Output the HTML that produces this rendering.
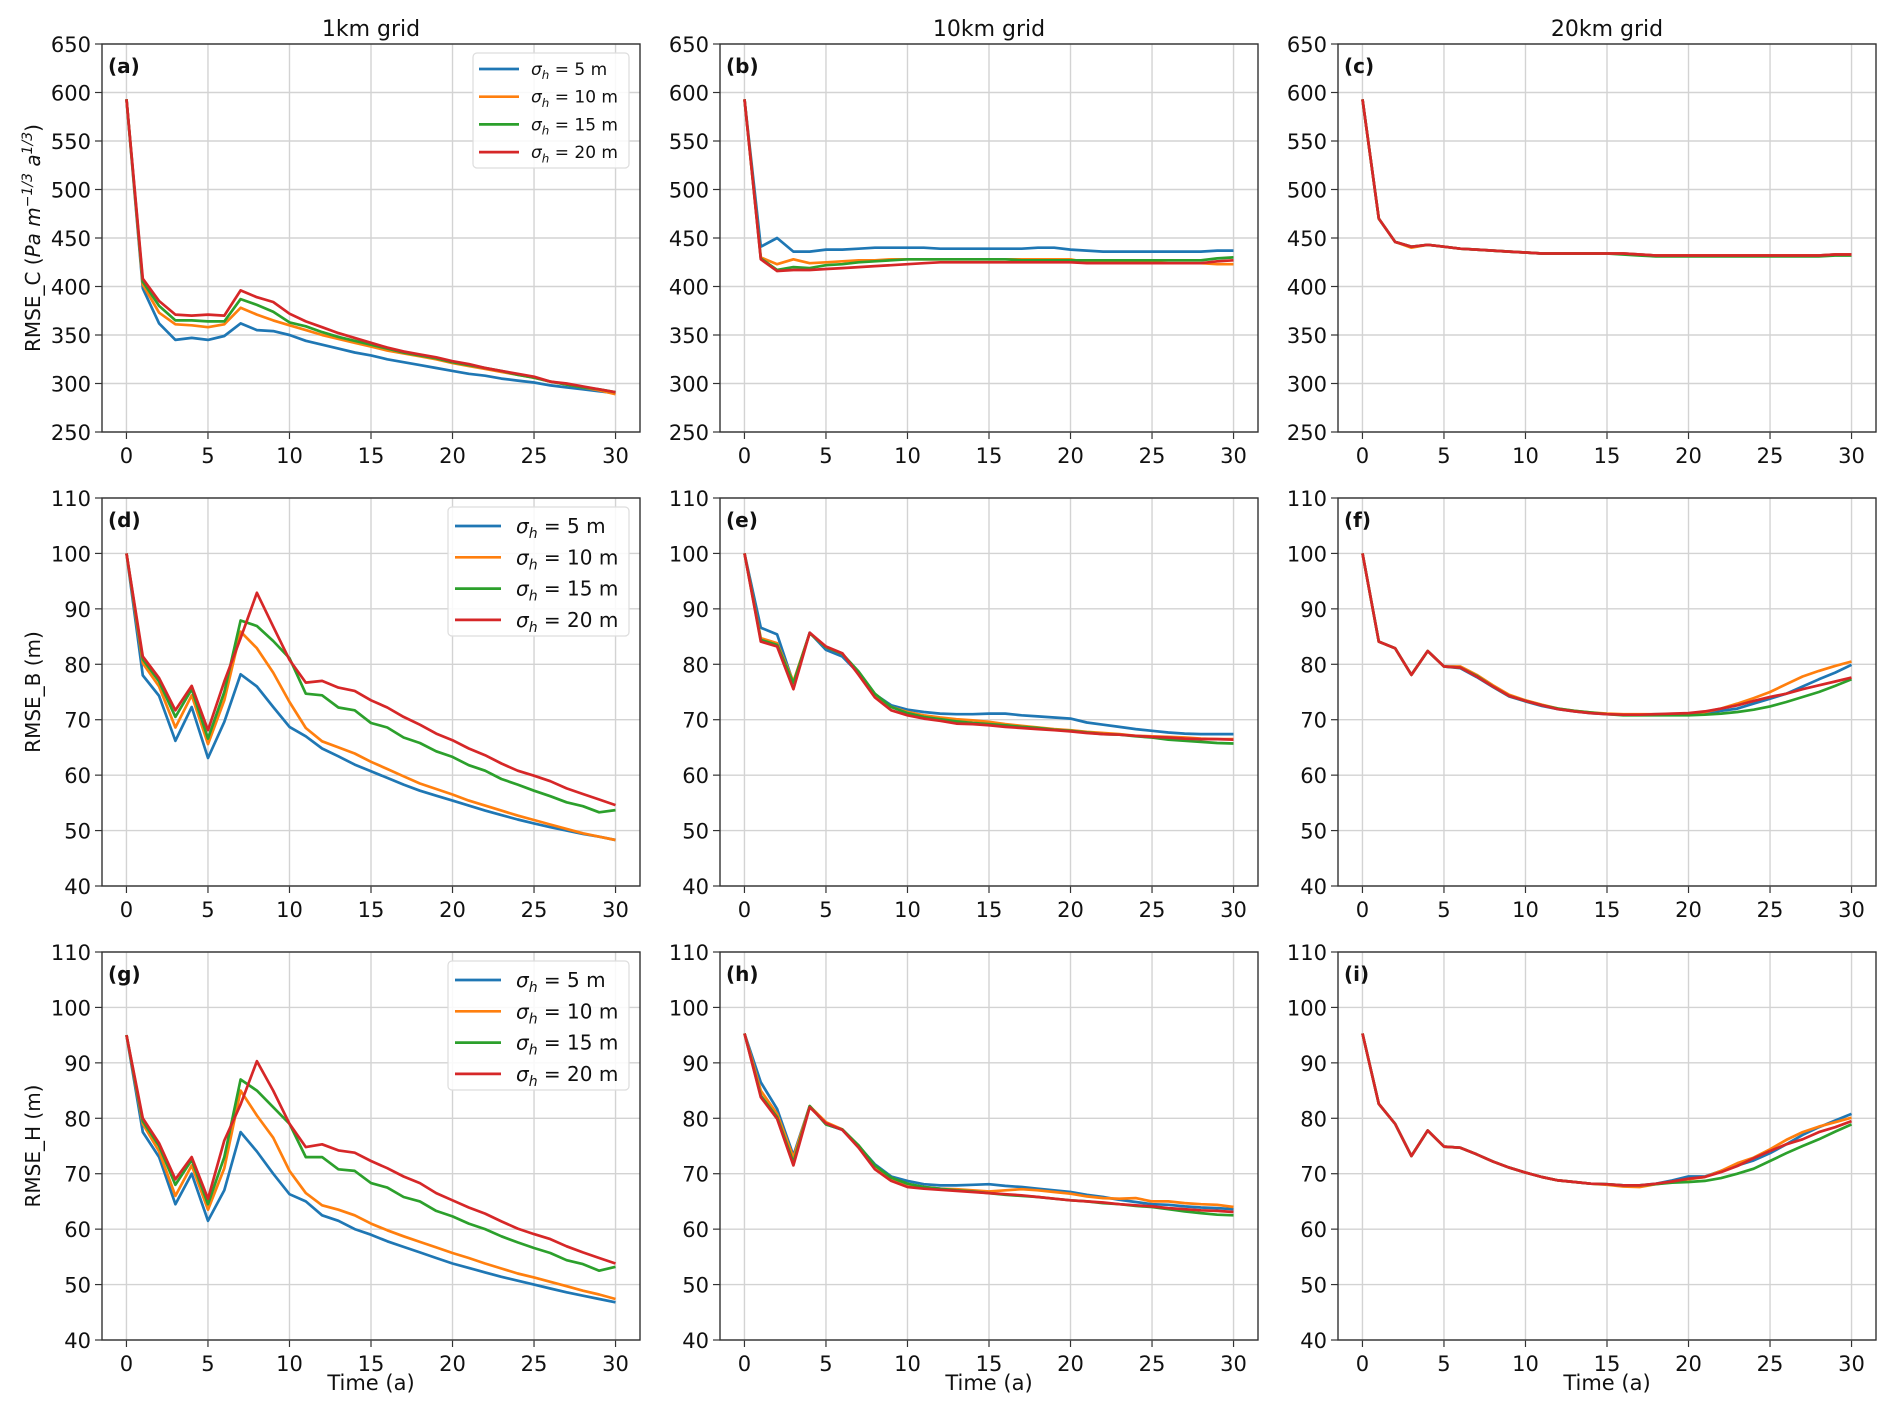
<!DOCTYPE html>
<html><head><meta charset="utf-8"><style>
html,body{margin:0;padding:0;background:#fff;}
svg{display:block;font-family:"DejaVu Sans","Liberation Sans",sans-serif;}
</style></head><body>
<svg id="fig" width="1892" height="1412" viewBox="0 0 1892 1412" xmlns="http://www.w3.org/2000/svg"></svg>
<script>
const xs = [];
for (let i = 0; i <= 30; i++) xs.push(i);
const seriesNames = ["5 m","10 m","15 m","20 m"];
const colors = ["#1f77b4","#ff7f0e","#2ca02c","#d62728"];
const xTicks = [0,5,10,15,20,25,30];
const yTicksC = [250,300,350,400,450,500,550,600,650];
const yTicksBH = [40,50,60,70,80,90,100,110];

// panel (a)
const aBlue  = [593,398,362,345,347,345,349,362,355,354,350,344,340,336,332,329,325,322,319,316,313,310,308,305,303,301,298,296,294,292,290];
const aOrange= [593,402,373,361,360,358,361,378,371,365,360,355,350,346,342,338,334,331,328,325,321,318,315,312,309,306,302,299,296,293,289];
const aGreen = [593,405,380,365,365,364,364,387,381,374,363,359,353,348,344,340,336,332,329,326,322,319,316,313,309,306,302,299,296,294,291];
const aRed   = [593,408,385,371,370,371,370,396,389,384,372,364,358,352,347,342,337,333,330,327,323,320,316,313,310,307,302,300,297,294,291];
// panel (b)
const bBlue  = [593,441,450,436,436,438,438,439,440,440,440,440,439,439,439,439,439,439,440,440,438,437,436,436,436,436,436,436,436,437,437];
const bOrange= [593,430,423,428,424,425,426,427,427,428,428,428,428,428,428,428,428,428,428,428,428,425,425,425,425,425,424,424,424,423,423];
const bGreen = [593,429,417,420,419,422,423,425,426,427,428,428,428,428,428,428,428,427,427,427,427,427,427,427,427,427,427,427,427,429,430];
const bRed   = [593,428,416,417,417,418,419,420,421,422,423,424,425,425,425,425,425,425,425,425,425,424,424,424,424,424,424,424,424,426,427];
// panel (c)
const cBlue  = [593,470,446,441,443,441,439,438,437,436,435,434,434,434,434,434,434,433,432,432,432,432,432,432,432,432,432,432,432,433,433];
const cOrange= [593,470,446,440,443,441,439,438,437,436,435,434,434,434,434,434,434,433,432,432,432,432,432,432,432,432,432,432,432,433,433];
const cGreen = [593,470,446,441,443,441,439,438,437,436,435,434,434,434,434,434,433,432,431,431,431,431,431,431,431,431,431,431,431,432,432];
const cRed   = [593,470,446,441,443,441,439,438,437,436,435,434,434,434,434,434,434,433,432,432,432,432,432,432,432,432,432,432,432,433,433];
// panel (d)
const dBlue  = [100,78,74.3,66.2,72.3,63.1,69.6,78.2,76,72.3,68.7,67,64.8,63.4,61.9,60.7,59.5,58.3,57.2,56.3,55.4,54.5,53.6,52.8,52,51.3,50.6,50,49.4,48.9,48.3];
const dOrange= [100,80.2,76,68.6,74.4,65.6,73.5,85.9,82.9,78.5,73.2,68.5,66.1,65,63.9,62.4,61.1,59.8,58.5,57.5,56.5,55.4,54.5,53.6,52.7,51.9,51.1,50.3,49.5,48.9,48.3];
const dGreen = [100,80.9,76.9,70.5,75.5,66.6,75,87.9,86.9,84.2,81.1,74.7,74.4,72.2,71.7,69.4,68.6,66.8,65.8,64.3,63.3,61.8,60.8,59.3,58.3,57.2,56.2,55.1,54.4,53.3,53.7];
const dRed   = [100,81.4,77.5,71.7,76.1,68.1,76.9,84.7,92.9,86.8,80.8,76.7,77,75.8,75.2,73.5,72.2,70.5,69.1,67.5,66.3,64.8,63.6,62.1,60.8,59.9,58.9,57.6,56.6,55.6,54.6];
// panel (e)
const eBlue  = [100,86.6,85.4,76.6,85.7,82.6,81.4,78.4,74.6,72.6,71.8,71.4,71.1,71,71,71.1,71.1,70.8,70.6,70.4,70.2,69.5,69.1,68.7,68.3,68,67.7,67.5,67.4,67.4,67.4];
const eOrange= [100,84.7,83.8,76.9,85.6,83.1,81.9,78.4,74.4,72.3,71.4,70.8,70.4,70.1,69.9,69.6,69.2,68.9,68.6,68.3,68.1,67.8,67.6,67.4,67.1,67,66.9,66.8,66.6,66.5,66.5];
const eGreen = [100,84.4,83.5,76.6,85.6,83.1,81.9,78.7,74.7,72.3,71.2,70.5,70.1,69.7,69.4,69.2,69,68.7,68.5,68.2,68,67.7,67.4,67.3,67,66.8,66.4,66.2,66,65.8,65.7];
const eRed   = [100,84.1,83.2,75.5,85.7,83.2,82,78.1,74,71.7,70.8,70.2,69.8,69.3,69.2,69,68.7,68.5,68.3,68.1,67.9,67.6,67.4,67.3,67.1,66.9,66.8,66.6,66.5,66.5,66.4];
// panel (f)
const fBlue  = [100,84.1,82.9,78.1,82.4,79.6,79.3,77.7,75.9,74.2,73.3,72.5,71.9,71.5,71.2,71,70.9,70.9,71,71,71.1,71.2,71.6,72,72.9,73.8,74.7,76,77.3,78.5,79.9];
const fOrange= [100,84.1,82.9,78.1,82.4,79.6,79.6,78.1,76.2,74.5,73.5,72.7,72,71.6,71.3,71.1,71,71,71,71,71.1,71.4,72,72.9,73.9,75,76.4,77.8,78.8,79.7,80.5];
const fGreen = [100,84.1,82.9,78.1,82.4,79.6,79.4,77.9,76,74.3,73.4,72.6,72,71.6,71.3,71,70.8,70.8,70.8,70.8,70.8,70.9,71.1,71.4,71.8,72.4,73.2,74.1,75,76.1,77.3];
const fRed   = [100,84.1,82.9,78.1,82.4,79.6,79.4,77.8,76,74.3,73.4,72.6,71.9,71.5,71.2,71,70.9,70.9,71,71.1,71.2,71.5,72,72.6,73.4,74.1,74.7,75.5,76.2,76.9,77.6];
// panel (g)
const gBlue  = [95,77.5,73,64.5,70,61.5,67,77.5,74,70,66.3,65,62.5,61.5,60,59,57.8,56.8,55.8,54.8,53.8,53,52.2,51.4,50.7,50,49.3,48.6,48,47.4,46.8];
const gOrange= [95,79,74,66,71.5,63.5,71,85,80.5,76.5,70.5,66.5,64.3,63.5,62.5,61,59.8,58.7,57.7,56.7,55.7,54.8,53.8,52.9,52,51.3,50.5,49.7,48.9,48.2,47.4];
const gGreen = [95,79.5,75,68,72.5,64.5,73,87,85,82,79,73,73,70.8,70.5,68.3,67.5,65.8,65,63.3,62.3,61,60,58.7,57.6,56.6,55.7,54.4,53.7,52.5,53.2];
const gRed   = [95,80,75.5,69,73,65.5,76,82.5,90.3,85,79,74.8,75.3,74.2,73.8,72.3,71,69.5,68.3,66.5,65.2,63.9,62.8,61.4,60.1,59.1,58.2,56.9,55.8,54.8,53.8];
// panel (h)
const hBlue  = [95.3,86.5,81.7,73.3,82.2,78.9,77.9,75,71.7,69.5,68.7,68.1,67.9,67.9,68,68.1,67.8,67.6,67.3,67,66.7,66.2,65.8,65.3,64.9,64.5,64.4,64.1,63.9,63.8,63.6];
const hOrange= [95.3,85,80.8,72.9,82.2,79.3,78,75,71.4,69.1,68.1,67.6,67.3,67.2,67,66.8,67,67.2,67,66.7,66.4,65.9,65.6,65.5,65.6,65,65,64.7,64.5,64.4,64];
const hGreen = [95.3,84.1,80.2,72,82.2,78.9,78,75.1,71.5,69.3,68.2,67.6,67.3,67,66.8,66.5,66.2,66,65.8,65.5,65.2,65,64.7,64.5,64.2,64,63.6,63.2,62.9,62.6,62.5];
const hRed   = [95.3,83.8,79.9,71.5,82,79.1,77.9,74.7,70.8,68.7,67.6,67.3,67.1,66.9,66.7,66.5,66.3,66.1,65.8,65.5,65.2,65,64.8,64.5,64.3,64.1,63.8,63.6,63.4,63.3,63.1];
// panel (i)
const iBlue  = [95.3,82.6,79,73.2,77.8,74.9,74.7,73.5,72.2,71.1,70.2,69.4,68.8,68.5,68.2,68.1,67.9,67.9,68.2,68.8,69.5,69.5,70.5,71.5,72.4,73.7,75.3,77,78.4,79.6,80.8];
const iOrange= [95.3,82.6,79,73.2,77.8,74.9,74.7,73.5,72.2,71.1,70.2,69.4,68.8,68.5,68.2,68,67.7,67.6,68.1,68.5,69,69.4,70.5,71.9,72.9,74.4,76.1,77.5,78.5,79.3,80.1];
const iGreen = [95.3,82.6,79,73.2,77.8,74.9,74.7,73.5,72.2,71.1,70.2,69.4,68.8,68.5,68.2,68.1,67.9,67.9,68.1,68.4,68.5,68.7,69.2,70,70.9,72.3,73.7,75,76.2,77.6,78.9];
const iRed   = [95.3,82.6,79,73.2,77.8,74.9,74.7,73.5,72.2,71.1,70.2,69.4,68.8,68.5,68.2,68.1,67.9,67.9,68.2,68.6,69.1,69.4,70.3,71.4,72.8,74.1,75.3,76.2,77.5,78.4,79.5];

const NS = "http://www.w3.org/2000/svg";
const svg = document.getElementById("fig");
function mk(tag, attrs, parent) {
  const e = document.createElementNS(NS, tag);
  for (const k in attrs) e.setAttribute(k, attrs[k]);
  (parent || svg).appendChild(e);
  return e;
}
const colLeft = [102, 720, 1338];
const rowTop = [44, 498, 952];
const PW = 538, PH = 388;

const panels = [
  {id:"a", r:0, c:0, s:[aBlue,aOrange,aGreen,aRed], yt:yTicksC, leg:1},
  {id:"b", r:0, c:1, s:[bBlue,bOrange,bGreen,bRed], yt:yTicksC},
  {id:"c", r:0, c:2, s:[cBlue,cOrange,cGreen,cRed], yt:yTicksC},
  {id:"d", r:1, c:0, s:[dBlue,dOrange,dGreen,dRed], yt:yTicksBH, leg:2},
  {id:"e", r:1, c:1, s:[eBlue,eOrange,eGreen,eRed], yt:yTicksBH},
  {id:"f", r:1, c:2, s:[fBlue,fOrange,fGreen,fRed], yt:yTicksBH},
  {id:"g", r:2, c:0, s:[gBlue,gOrange,gGreen,gRed], yt:yTicksBH, leg:2},
  {id:"h", r:2, c:1, s:[hBlue,hOrange,hGreen,hRed], yt:yTicksBH},
  {id:"i", r:2, c:2, s:[iBlue,iOrange,iGreen,iRed], yt:yTicksBH}
];

panels.forEach(p => {
  const L = colLeft[p.c], T = rowTop[p.r];
  const ymin = p.yt[0], ymax = p.yt[p.yt.length-1];
  const k = PW / 33;
  const xS = v => L + 1.5*k + v*k;
  const yS = v => T + PH - (v - ymin) / (ymax - ymin) * PH;
  const g = mk("g", {});
  
  
  xTicks.forEach(t => {
    const ln = mk("line", {x1:xS(t), x2:xS(t), y1:T, y2:T+PH, stroke:"#d3d3d3", "stroke-width":1.4}, g);
    
    
    const tk = mk("line", {x1:xS(t), x2:xS(t), y1:T+PH, y2:T+PH+7, stroke:"#333", "stroke-width":1.2}, g);
    
    
    const tx = mk("text", {x:xS(t), y:T+PH+31, "text-anchor":"middle", "font-size":21, fill:"#111"}, g);
    tx.textContent = t;
    
    
  });
  p.yt.forEach(t => {
    const ln = mk("line", {x1:L, x2:L+PW, y1:yS(t), y2:yS(t), stroke:"#d3d3d3", "stroke-width":1.4}, g);
    
    
    const tk = mk("line", {x1:L-7, x2:L, y1:yS(t), y2:yS(t), stroke:"#333", "stroke-width":1.2}, g);
    
    
    const tx = mk("text", {x:L-11, y:yS(t)+8, "text-anchor":"end", "font-size":21, fill:"#111"}, g);
    tx.textContent = t;
    
    
  });
  p.s.forEach((arr, si) => {
    const d = arr.map((v, i) => (i ? "L" : "M") + xS(xs[i]).toFixed(1) + " " + yS(v).toFixed(1)).join(" ");
    const path = mk("path", {d:d, fill:"none", stroke:colors[si], "stroke-width":2.7, "stroke-linejoin":"round"}, g);
    
    
  });
  const fr = mk("rect", {x:L, y:T, width:PW, height:PH, fill:"none", stroke:"#333", "stroke-width":1.4}, g);
  
  
  const lab = mk("text", {x:L+6, y:T+29, "font-size":20, "font-weight":"bold", fill:"#111"}, g);
  lab.textContent = "(" + p.id + ")";
  
  
  if (p.leg) {
    const small = p.leg === 1;
    const bx = small ? 473 : 448, bw = 629 - bx;
    const by = T+9, bh = small ? 115 : 129;
    const lg = mk("g", {}, g);
    
    
    mk("rect", {x:bx, y:by, width:bw, height:bh, rx:4, fill:"#fff", "fill-opacity":0.85, stroke:"#ddd", "stroke-width":1.2}, lg);
    const fs = small ? 17 : 20, step = small ? 27.7 : 31.3;
    const l1 = small ? 479 : 455, l2 = small ? 519 : 501, tx0 = small ? 531 : 516;
    const y0 = by + (small ? 16 : 19);
    seriesNames.forEach((nm, si) => {
      const yy = y0 + si*step;
      const e = mk("g", {}, lg);
      
      
      mk("line", {x1:l1, x2:l2, y1:yy, y2:yy, stroke:colors[si], "stroke-width":2.7}, e);
      const t = mk("text", {x:tx0, y:yy+fs*0.35, "font-size":fs, fill:"#111"}, e);
      const s1 = mk("tspan", {"font-style":"italic"}, t); s1.textContent = "σ";
      const s2 = mk("tspan", {"font-style":"italic", "font-size":fs*0.7, dy:fs*0.25}, t); s2.textContent = "h";
      const s3 = mk("tspan", {dy:-fs*0.25}, t); s3.textContent = " = " + nm;
    });
  }
});

["1km grid","10km grid","20km grid"].forEach((s, i) => {
  const t = mk("text", {x:colLeft[i]+PW/2, y:36, "text-anchor":"middle", "font-size":22, fill:"#111"});
  t.textContent = s;
  
  
  const xl = mk("text", {x:colLeft[i]+PW/2, y:1390, "text-anchor":"middle", "font-size":21, fill:"#111"});
  xl.textContent = "Time (a)";
  
  
});
function ylab(y, build) {
  const t = mk("text", {x:0, y:0, "text-anchor":"middle", "font-size":20, fill:"#111", transform:"translate(40," + y + ") rotate(-90)"});
  
  
  build(t);
}
ylab(rowTop[0]+PH/2, t => {
  const a = mk("tspan", {}, t); a.textContent = "RMSE_C (";
  const b = mk("tspan", {"font-style":"italic"}, t); b.textContent = "Pa m";
  const c = mk("tspan", {"font-style":"italic", "font-size":14, dy:-8}, t); c.textContent = "−1/3";
  const d = mk("tspan", {"font-style":"italic", dy:8}, t); d.textContent = " a";
  const e = mk("tspan", {"font-style":"italic", "font-size":14, dy:-8}, t); e.textContent = "1/3";
  const f = mk("tspan", {dy:8}, t); f.textContent = ")";
});
ylab(rowTop[1]+PH/2, t => { t.textContent = "RMSE_B (m)"; });
ylab(rowTop[2]+PH/2, t => { t.textContent = "RMSE_H (m)"; });
</script>
</body></html>
